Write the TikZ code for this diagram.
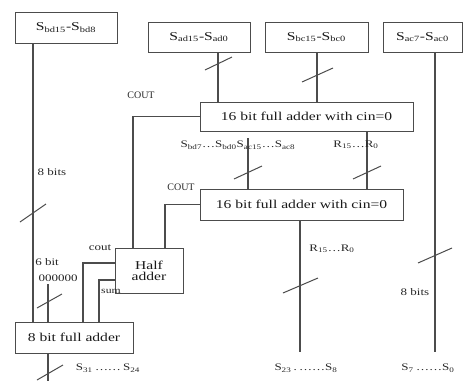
\documentclass[tikz,border=0pt]{standalone}
\usepackage{fontspec}
\usepackage{graphicx}
\setmainfont{Liberation Serif}
\newcommand\Sx[1]{S\textsubscript{#1}}
\newcommand\Rx[1]{R\textsubscript{#1}}
\newcommand\wide[1]{\scalebox{1.3}[1]{#1}}
\begin{document}
\begin{tikzpicture}[x=1pt,y=-1pt,
  blk/.style={draw=black!70, line width=1pt, inner sep=0pt, text=black!90,
     font=\fontsize{12}{13}\selectfont},
  wire/.style={draw=black!70, line width=1.1pt},
  tick/.style={draw=black!70, line width=1pt},
  lbl/.style={inner sep=0pt, text=black!85, font=\fontsize{10}{11}\selectfont}]
\useasboundingbox (0,0) rectangle (464,381);
% blocks
\node[blk, minimum width=102pt, minimum height=31pt] (b1) at (66,27.5) {\wide{\Sx{bd15}-\Sx{bd8}}};
\node[blk, minimum width=102pt, minimum height=30pt] (b2) at (199,37) {\wide{\Sx{ad15}-\Sx{ad0}}};
\node[blk, minimum width=103pt, minimum height=30pt] (b3) at (316.5,37) {\wide{\Sx{bc15}-\Sx{bc0}}};
\node[blk, minimum width=79pt, minimum height=30pt] (b4) at (422.5,37) {\wide{\Sx{ac7}-\Sx{ac0}}};
\node[blk, minimum width=213pt, minimum height=29pt] (a1) at (306.5,116.5) {\wide{16 bit full adder with cin=0}};
\node[blk, minimum width=203pt, minimum height=31pt] (a2) at (301.5,204.5) {\wide{16 bit full adder with cin=0}};
\node[blk, minimum width=68pt, minimum height=45pt, align=center] (ha) at (149,270.5) {\wide{Half}\\[-2pt]\wide{adder}};
\node[blk, minimum width=118pt, minimum height=31pt] (fa) at (74,337.5) {\wide{8 bit full adder}};
% x positions
\coordinate (x33) at (33,0);
\coordinate (x48) at (48,0);
\coordinate (x83) at (83,0);
\coordinate (x99) at (99,0);
\coordinate (x133) at (133,0);
\coordinate (x165) at (165,0);
\coordinate (x218) at (218,0);
\coordinate (x248) at (248,0);
\coordinate (x300) at (300,0);
\coordinate (x317) at (317,0);
\coordinate (x367) at (367,0);
\coordinate (x435) at (435,0);
% free ends
\coordinate (e248) at (248,138);
\coordinate (e48) at (48,284);
\coordinate (o1) at (48,381);
\coordinate (o2) at (300,352);
\coordinate (o3) at (435,352);
% wires
\draw[wire] (b1.south -| x33) -- (fa.north -| x33);
\draw[wire] (b2.south -| x218) -- (a1.north -| x218);
\draw[wire] (b3.south -| x317) -- (a1.north -| x317);
\draw[wire] (b4.south -| x435) -- (o3);
\draw[wire] (a1.west) -| (ha.north -| x133);
\draw[wire] (a2.west) -| (ha.north -| x165);
\draw[wire] (e248) -- (a2.north -| x248);
\draw[wire] (a1.south -| x367) -- (a2.north -| x367);
\draw[wire] (a2.south -| x300) -- (o2);
\draw[wire] ([yshift=7.5pt]ha.west) -| (fa.north -| x83);
\draw[wire] ([yshift=-9.5pt]ha.west) -| (fa.north -| x99);
\draw[wire] (e48) -- (fa.north -| x48);
\draw[wire] (fa.south -| x48) -- (o1);
% bus ticks
\draw[tick] (20,222) -- (46,204);
\draw[tick] (205,70) -- (232,57);
\draw[tick] (302,82) -- (333,68);
\draw[tick] (418,263) -- (452,248);
\draw[tick] (234,179) -- (262,166);
\draw[tick] (353,179) -- (381,166);
\draw[tick] (283,293) -- (318,278);
\draw[tick] (37,308) -- (62,294);
\draw[tick] (37,380) -- (63,365);
% labels
\node[lbl] (l1) at (141,95) {COUT};
\node[lbl] (l2) at (181,187) {COUT};
\node[lbl] (l3) at (52,172) {\wide{8 bits}};
\node[lbl] (l4) at (415,292) {\wide{8 bits}};
\node[lbl] (l5) at (238,145) {\wide{\Sx{bd7}\dots\Sx{bd0}\Sx{ac15}\dots\Sx{ac8}}};
\node[lbl] (l6) at (356,145) {\wide{\Rx{15}\dots\Rx{0}}};
\node[lbl] (l7) at (332,249) {\wide{\Rx{15}\dots\Rx{0}}};
\node[lbl] (l8) at (100,248) {\wide{cout}};
\node[lbl] (l9) at (111,291) {\wide{\fontsize{9}{10}\selectfont sum}};
\node[lbl] (l10) at (47,262) {\wide{6 bit}};
\node[lbl] (l11) at (58,278) {\wide{000000}};
\node[lbl] (l12) at (108,368) {\wide{\Sx{31}\,\dots\dots\,\Sx{24}}};
\node[lbl] (l13) at (306,368) {\wide{\Sx{23}\,.\,\dots\dots\Sx{8}}};
\node[lbl] (l14) at (428,368) {\wide{\Sx{7}\,\dots\dots\Sx{0}}};
\end{tikzpicture}
\end{document}
